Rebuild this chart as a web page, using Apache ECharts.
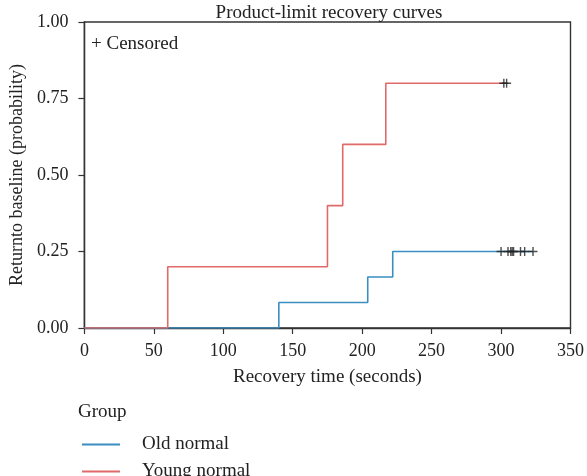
<!DOCTYPE html>
<html><head><meta charset="utf-8">
<script src="https://cdn.jsdelivr.net/npm/echarts@6/dist/echarts.min.js"></script>
<style>html,body{margin:0;padding:0;background:#fff}#c{width:587px;height:476px}</style>
</head><body><div id="c"></div>
<script>
const xTicks = [0, 50, 100, 150, 200, 250, 300, 350];
const yTicks = [0, 0.25, 0.5, 0.75, 1];
const oldTimes = [0, 140, 204, 222, 323];
const oldValues = [0, 0.0833, 0.1667, 0.25, 0.25];
const youngTimes = [0, 60, 175, 186, 217, 304];
const youngValues = [0, 0.2, 0.4, 0.6, 0.8, 0.8];
const oldCensored = [300, 305, 307, 308, 309, 314, 317, 323];
const oldCensoredValue = 0.25;
const youngCensored = [302, 304];
const youngCensoredValue = 0.8;

const FONT = '"Liberation Serif", "DejaVu Serif", serif';
const BLUE = '#3a8ec2';
const RED = '#e06a6a';
const TXT = '#222';
const plus = 'path://M0,5H10M5,0V10';

const chart = echarts.init(document.getElementById('c'), null, {renderer: 'canvas'});
chart.setOption({
  animation: false,
  backgroundColor: '#fff',
  textStyle: {fontFamily: FONT},
  title: {
    text: 'Product-limit recovery curves', left: 324, textAlign: 'center', top: -1,
    textStyle: {fontFamily: FONT, fontWeight: 'normal', fontSize: 19, color: TXT}
  },
  grid: {left: 78, right: 14, top: 22, bottom: 148, show: true, borderColor: '#333', borderWidth: 1.4, backgroundColor: 'transparent'},
  xAxis: {
    type: 'value', min: xTicks[0], max: xTicks[xTicks.length - 1], interval: 50,
    name: 'Recovery time (seconds)', nameLocation: 'middle', nameGap: 40,
    nameTextStyle: {fontFamily: FONT, fontSize: 19, color: TXT},
    axisLine: {lineStyle: {color: '#333', width: 1.4}},
    axisTick: {show: true, length: 6, lineStyle: {color: '#333', width: 1.2}},
    axisLabel: {fontFamily: FONT, fontSize: 18, color: TXT, margin: 14},
    splitLine: {show: false}
  },
  yAxis: {
    type: 'value', min: yTicks[0], max: yTicks[yTicks.length - 1], interval: 0.25,
    name: 'Returnto baseline (probability)', nameLocation: 'middle', nameGap: 57, nameRotate: 90,
    nameTextStyle: {fontFamily: FONT, fontSize: 18, color: TXT},
    axisLine: {show: true, lineStyle: {color: '#333', width: 1.4}},
    axisTick: {show: true, length: 6, lineStyle: {color: '#333', width: 1.2}},
    axisLabel: {fontFamily: FONT, fontSize: 18, color: TXT, margin: 16, formatter: v => v.toFixed(2)},
    splitLine: {show: false}
  },
  legend: [
    {data: ['Old normal'], left: 77, top: 430, itemWidth: 38, itemHeight: 2, icon: 'rect',
     textStyle: {fontFamily: FONT, fontSize: 19, color: TXT, padding: [0, 0, 0, 17]}},
    {data: ['Young normal'], left: 77, top: 457, itemWidth: 38, itemHeight: 2, icon: 'rect',
     textStyle: {fontFamily: FONT, fontSize: 19, color: TXT, padding: [0, 0, 0, 17]}}
  ],
  graphic: [
    {type: 'text', left: 78, top: 403, style: {text: 'Group', font: '19px ' + FONT, fill: TXT}},
    {type: 'text', left: 91, top: 35, style: {text: '+ Censored', font: '19px ' + FONT, fill: TXT}}
  ],
  series: [
    {name: 'Old normal', type: 'line', step: 'end', showSymbol: false, color: BLUE,
     lineStyle: {color: BLUE, width: 1.6}, data: oldTimes.map((t, i) => [t, oldValues[i]])},
    {name: 'Young normal', type: 'line', step: 'end', showSymbol: false, color: RED,
     lineStyle: {color: RED, width: 1.6}, data: youngTimes.map((t, i) => [t, youngValues[i]])},
    {name: 'censOld', type: 'scatter', symbol: plus, symbolSize: 9,
     itemStyle: {color: 'transparent', borderColor: '#222', borderWidth: 1.4},
     data: oldCensored.map(t => [t, oldCensoredValue]), z: 5},
    {name: 'censYoung', type: 'scatter', symbol: plus, symbolSize: 9,
     itemStyle: {color: 'transparent', borderColor: '#222', borderWidth: 1.4},
     data: youngCensored.map(t => [t, youngCensoredValue]), z: 5}
  ]
});
</script></body></html>
